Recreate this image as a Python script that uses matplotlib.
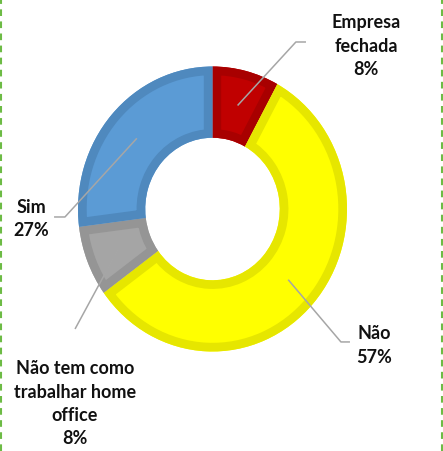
import matplotlib
matplotlib.use("Agg")
import matplotlib.pyplot as plt
from matplotlib.lines import Line2D
import numpy as np

# data
labels = ["Empresa\nfechada", "Não", "Não tem como\ntrabalhar home\noffice", "Sim"]
values = [8, 57, 8, 27]
pct_labels = ["8%", "57%", "8%", "27%"]

fills = ["#C00000", "#FFFF00", "#A5A5A5", "#5B9BD5"]
edges = ["#A80000", "#E6E600", "#959595", "#4F89BE"]

# label layout (data coords): elbow, end of leader, text centre
elbows = [(0.62, 1.172), (0.955, -0.933), None, (-1.097, -0.056)]
ends = [(0.695, 1.172), (1.022, -0.933), (-1.022, -0.842), (-1.178, -0.056)]
text_pos = [(1.141, 1.15), (1.20, -0.95), (-1.022, -1.36), (-1.349, -0.065)]

plt.rcParams['font.family'] = ['Lato', 'DejaVu Sans']

fig = plt.figure(figsize=(4.43, 4.52), dpi=100)
ax = fig.add_axes([0, 0, 1, 1])

wedges, _ = ax.pie(values, colors=fills, startangle=90, counterclock=False,
                   radius=1.0, wedgeprops=dict(width=0.5, linewidth=0))
# second pass: thick dark outline clipped to each wedge -> inner stroke
rims, _ = ax.pie(values, startangle=90, counterclock=False, radius=1.0,
                 wedgeprops=dict(width=0.5, linewidth=12.5, fill=False))
for w, r, ec in zip(wedges, rims, edges):
    r.set_edgecolor(ec)
    r.set_joinstyle('miter')
    r.set_clip_on(True)
    r.set_clip_path(w)

ax.set_aspect('auto')
ax.set_xlim(-212.5 / 134.5, (443 - 212.5) / 134.5)
ax.set_ylim(-242 / 142.5, (452 - 242) / 142.5)
ax.axis('off')

for i, w in enumerate(wedges):
    mid = np.deg2rad((w.theta1 + w.theta2) / 2)
    sx, sy = 0.75 * np.cos(mid), 0.75 * np.sin(mid)
    xs, ys = [sx], [sy]
    if elbows[i] is not None:
        xs.append(elbows[i][0]); ys.append(elbows[i][1])
    xs.append(ends[i][0]); ys.append(ends[i][1])
    ax.plot(xs, ys, color="#A6A6A6", lw=1.1, solid_capstyle='butt')
    ax.text(text_pos[i][0], text_pos[i][1], labels[i] + "\n" + pct_labels[i],
            ha='center', va='center', fontsize=13, fontweight='bold',
            color="#111111", linespacing=1.45)

# green dashed border
for xp in (0.8 / 443, 441.5 / 443):
    fig.add_artist(Line2D([xp, xp], [0, 1], transform=fig.transFigure,
                          color="#6DBB45", lw=1.5, dashes=(3.2, 2.6)))

fig.savefig("out.png", dpi=100)
